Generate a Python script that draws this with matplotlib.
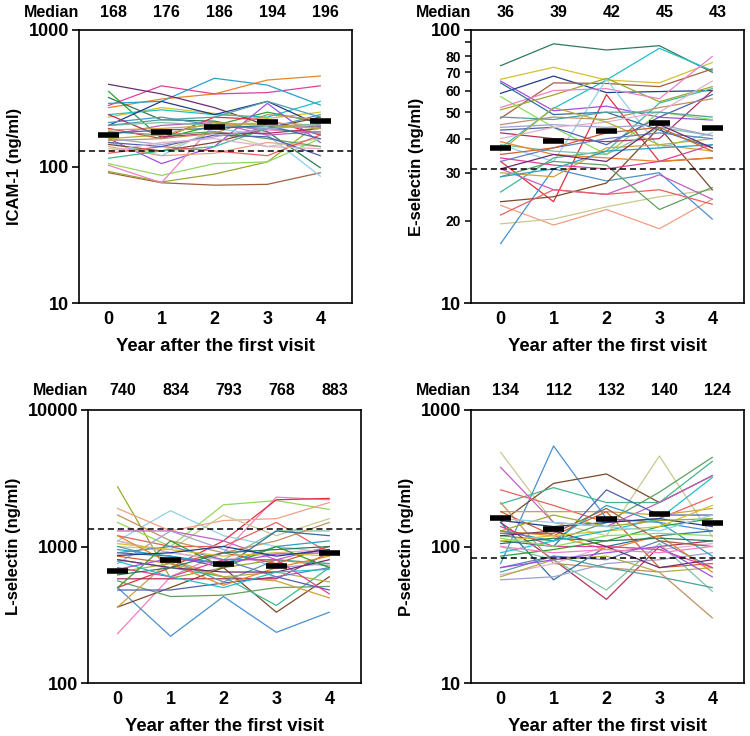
import matplotlib
matplotlib.use("Agg")
import matplotlib.pyplot as plt
import numpy as np

plt.rcParams['font.family'] = ['Liberation Sans', 'DejaVu Sans']
plt.rcParams['font.weight'] = 'bold'

years = [0, 1, 2, 3, 4]

# ---------------- data ----------------
icam_subjects = [
    [270, 312, 340, 430, 460],
    [280, 390, 340, 348, 390],
    [290, 300, 443, 395, 282],
    [400, 340, 270, 200, 195],
    [355, 160, 200, 250, 210],
    [320, 220, 215, 180, 98],
    [230, 270, 245, 225, 250],
    [240, 260, 240, 230, 300],
    [160, 105, 140, 290, 150],
    [200, 300, 240, 300, 200],
    [90, 76, 73, 74, 90],
    [92, 77, 88, 108, 210],
    [105, 86, 105, 108, 160],
    [102, 76, 205, 185, 180],
    [150, 120, 190, 170, 85],
    [190, 160, 230, 220, 170],
    [140, 120, 125, 150, 140],
    [135, 130, 180, 140, 160],
    [210, 230, 200, 190, 240],
    [145, 130, 150, 190, 230],
    [115, 130, 140, 190, 175],
    [170, 200, 210, 170, 180],
    [125, 140, 130, 120, 170],
    [180, 170, 180, 160, 140],
    [185, 190, 200, 210, 200],
    [150, 140, 170, 165, 120],
    [240, 165, 175, 175, 190],
    [200, 210, 200, 195, 205],
    [155, 160, 175, 240, 220],
    [175, 185, 190, 200, 160],
    [160, 145, 165, 190, 200],
    [130, 150, 160, 140, 135],
    [200, 220, 230, 300, 230],
    [160, 170, 210, 200, 190],
]
icam_median_bar = [170, 180, 194, 212, 215]
icam_median_label = [168, 176, 186, 194, 196]
icam_ref = 130

esel_subjects = [
    [74, 89, 84.5, 87.6, 70],
    [66, 73, 65.6, 64, 76],
    [37, 51.6, 65.6, 85.7, 71],
    [65, 50.6, 52.6, 47.9, 46.8],
    [58.6, 67.8, 59, 59.5, 60],
    [47.5, 64, 63.7, 62, 72],
    [51, 57.8, 66.5, 54.6, 62],
    [57, 44, 35, 50, 47],
    [52, 60, 61, 56, 80],
    [38, 33, 66, 37, 42],
    [33, 23.5, 58, 33, 34],
    [22.8, 19.3, 22, 18.7, 24],
    [19.5, 20.3, 22.5, 24.5, 26],
    [16.5, 31, 28, 30, 20.3],
    [23.5, 24.5, 27.5, 44, 26],
    [25.5, 34, 36, 54, 61],
    [31, 26, 25, 29.5, 24],
    [21, 26, 25, 26, 23],
    [29, 33, 32, 22, 26.5],
    [30, 29, 37, 38, 36],
    [43, 44, 38, 48, 58],
    [42, 40, 39, 40, 60],
    [38, 36, 35, 44, 41],
    [45, 48, 47, 52, 56],
    [64, 49, 50, 43, 37],
    [44, 45, 44, 45, 41],
    [40, 44, 46, 50, 65],
    [48, 47, 50, 50, 48],
    [36, 52, 46, 38, 40],
    [33, 37, 40, 42, 40],
    [35, 37, 42, 44, 36],
    [39, 35, 34, 33, 34],
    [34, 32, 31, 33, 38],
    [29, 31, 36, 37, 38],
    [31, 35, 33, 45, 37],
]
esel_median_bar = [36.9, 39.2, 42.8, 45.5, 43.8]
esel_median_label = [36, 39, 42, 45, 43]
esel_ref = 31

lsel_subjects = [
    [2740, 587, 700, 800, 720],
    [1500, 1000, 2020, 2170, 1870],
    [230, 600, 900, 2300, 2200],
    [1100, 1830, 1200, 1000, 900],
    [500, 700, 1100, 2200, 2250],
    [1900, 1300, 1550, 1600, 2100],
    [1000, 950, 1700, 1200, 1600],
    [500, 220, 430, 235, 330],
    [360, 500, 700, 330, 600],
    [800, 700, 600, 370, 700],
    [1300, 1300, 1100, 800, 1000],
    [1200, 1000, 1000, 1500, 900],
    [560, 430, 440, 500, 510],
    [360, 800, 600, 560, 420],
    [480, 480, 540, 600, 480],
    [580, 580, 580, 580, 900],
    [1100, 900, 800, 1300, 1300],
    [1700, 1100, 900, 1100, 1500],
    [900, 850, 700, 1300, 1200],
    [750, 1300, 950, 700, 750],
    [1100, 900, 800, 900, 950],
    [1000, 800, 550, 800, 750],
    [650, 750, 600, 650, 550],
    [900, 1000, 800, 600, 700],
    [850, 750, 900, 750, 1000],
    [1200, 750, 520, 700, 850],
    [700, 600, 800, 800, 450],
    [950, 850, 750, 1000, 1100],
    [800, 700, 650, 650, 800],
    [500, 1100, 700, 1000, 700],
    [620, 700, 900, 950, 1000],
    [1050, 950, 850, 900, 850],
    [780, 600, 500, 650, 680],
    [680, 820, 750, 880, 900],
    [860, 900, 1000, 850, 950],
]
lsel_median_bar = [665, 800, 748, 723, 891]
lsel_median_label = [740, 834, 793, 768, 883]
lsel_ref = 1340

psel_subjects = [
    [490, 150, 120, 460, 118],
    [75, 545, 160, 150, 130],
    [150, 290, 340, 210, 330],
    [205, 270, 210, 210, 420],
    [380, 150, 140, 210, 330],
    [260, 200, 150, 160, 230],
    [120, 110, 150, 250, 450],
    [180, 180, 180, 170, 190],
    [110, 100, 260, 170, 170],
    [150, 80, 41, 100, 110],
    [100, 80, 48, 105, 47],
    [210, 75, 70, 65, 30],
    [150, 57, 100, 120, 130],
    [57, 60, 75, 80, 90],
    [62, 75, 100, 95, 105],
    [65, 85, 70, 60, 50],
    [60, 80, 85, 65, 70],
    [70, 85, 80, 110, 70],
    [180, 120, 180, 70, 75],
    [130, 120, 95, 120, 65],
    [140, 100, 100, 95, 70],
    [130, 110, 200, 150, 85],
    [120, 130, 100, 70, 80],
    [85, 95, 110, 140, 160],
    [105, 115, 110, 115, 110],
    [110, 120, 130, 140, 200],
    [90, 110, 130, 160, 320],
    [70, 80, 90, 100, 60],
    [155, 140, 150, 160, 140],
    [125, 125, 190, 110, 100],
    [130, 170, 140, 155, 160],
    [115, 100, 120, 125, 120],
    [100, 90, 95, 90, 100],
    [160, 150, 140, 130, 170],
]
psel_median_bar = [161, 135, 159, 174, 149]
psel_median_label = [134, 112, 132, 140, 124]
psel_ref = 82

palette = [
    '#e8842a', '#e0409a', '#2aa0c8', '#6a2d6e', '#2ea02e', '#2d7a5a',
    '#d4c030', '#20c0c8', '#a050e0', '#203c8c', '#a06040', '#9aaa30',
    '#90d860', '#f080c0', '#90d0e8', '#e03040', '#f0a080', '#c8c890',
    '#4a90d0', '#7a4a2a', '#40b890', '#c060c0', '#e86060', '#60a060',
    '#d0a040', '#5060b0', '#b03060', '#80c0a0', '#c09060', '#3070a0',
    '#a0a0d0', '#e0b0d0', '#50a0a0', '#b0b040', '#6080c0', '#d06030',
]

panels = [
    dict(data=icam_subjects, bar=icam_median_bar, lab=icam_median_label, ref=icam_ref,
         ylim=(10, 1000), ylabel='ICAM-1 (ng/ml)', rect=[79, 30, 273, 273], shift=0),
    dict(data=esel_subjects, bar=esel_median_bar, lab=esel_median_label, ref=esel_ref,
         ylim=(10, 100), ylabel='E-selectin (ng/ml)', rect=[471, 30, 273, 273], shift=5),
    dict(data=lsel_subjects, bar=lsel_median_bar, lab=lsel_median_label, ref=lsel_ref,
         ylim=(100, 10000), ylabel='L-selectin (ng/ml)', rect=[88, 410, 273, 273], shift=11),
    dict(data=psel_subjects, bar=psel_median_bar, lab=psel_median_label, ref=psel_ref,
         ylim=(10, 1000), ylabel='P-selectin (ng/ml)', rect=[471, 410, 273, 273], shift=17),
]

W, H = 750, 736
fig = plt.figure(figsize=(W / 100, H / 100), dpi=100)

for i, p in enumerate(panels):
    l, t, w, h = p['rect']
    ax = fig.add_axes([l / W, (H - t - h) / H, w / W, h / H])
    ax.set_yscale('log')
    for j, s in enumerate(p['data']):
        ax.plot(years, s, color=palette[(j + p['shift']) % len(palette)], lw=0.9, zorder=2)
    ax.axhline(p['ref'], color='black', lw=1.1, ls=(0, (4, 2.5)), zorder=3)
    ax.hlines(p['bar'], np.array(years) - 0.2, np.array(years) + 0.2,
              color='black', lw=4, zorder=4)
    ax.set_xlim(-0.56, 4.6)
    ax.set_ylim(*p['ylim'])
    ax.set_xticks(years)
    ax.set_xticklabels([str(y) for y in years], fontsize=13, fontweight='bold')
    ax.tick_params(axis='x', length=0, pad=6)
    lo, hi = p['ylim']
    majors = [v for v in [10, 100, 1000, 10000] if lo <= v <= hi]
    ax.set_yticks(majors)
    ax.set_yticklabels([str(v) for v in majors], fontsize=13, fontweight='bold')
    if i == 1:
        minors = [20, 30, 40, 50, 60, 70, 80, 90]
        ax.set_yticks(minors, minor=True)
        ax.set_yticklabels(['20', '30', '40', '50', '60', '70', '80', ''], minor=True,
                           fontsize=10, fontweight='bold')
        ax.tick_params(axis='y', which='minor', length=4, width=1.1, pad=3)
    else:
        ax.yaxis.set_minor_locator(matplotlib.ticker.NullLocator())
    ax.tick_params(axis='y', which='major', length=5, width=1.2, pad=2)
    for sp in ax.spines.values():
        sp.set_linewidth(1.2)
    ax.set_xlabel('Year after the first visit', fontsize=13.3, fontweight='bold', labelpad=7)
    ax.set_ylabel(p['ylabel'], fontsize=12, fontweight='bold', labelpad=5)
    ytxt = 1.064 if i < 2 else 1.073
    trans = matplotlib.transforms.blended_transform_factory(ax.transData, ax.transAxes)
    ax.text(-1.08, ytxt, 'Median', transform=trans, ha='center', va='center',
            fontsize=11.5, fontweight='bold')
    for x, v in zip(years, p['lab']):
        ax.text(x + 0.1, ytxt, str(v), transform=trans, ha='center', va='center',
                fontsize=11.5, fontweight='bold')

fig.savefig('out.png', dpi=100)
